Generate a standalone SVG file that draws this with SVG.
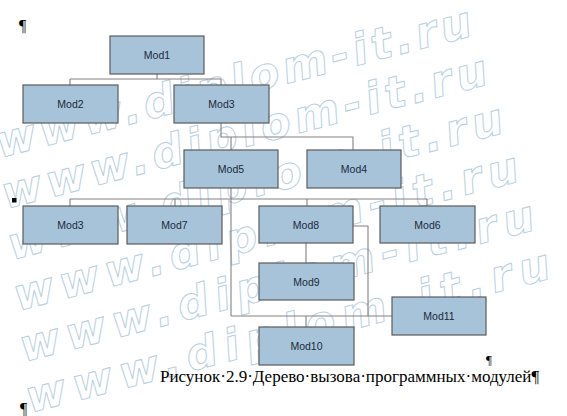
<svg xmlns="http://www.w3.org/2000/svg" width="567" height="416" viewBox="0 0 567 416">
<style>
.box{fill:#a7c3d9;stroke:#5b5b5b;stroke-width:1.2}
.lbl{font-family:"Liberation Sans",Arial,sans-serif;font-size:10.5px;fill:#1b2a3b;text-anchor:middle}
.con{fill:none;stroke:#858080;stroke-width:1.1}
.wm{font-family:"DejaVu Sans",sans-serif;font-size:44px;font-weight:bold;font-style:oblique;fill:#ffffff;stroke:#b9d0e0;stroke-width:1}
.para{font-family:"Liberation Serif","Times New Roman",serif;fill:#000}
</style>
<rect width="567" height="416" fill="#ffffff"/>
<g id="watermark">
<text class="wm" transform="translate(0,158) rotate(-14.5)" textLength="490" lengthAdjust="spacing">www.diplom-it.ru</text>
<text class="wm" transform="translate(6,209) rotate(-14.5)" textLength="500" lengthAdjust="spacing">www.diplom-it.ru</text>
<text class="wm" transform="translate(12,260) rotate(-14.5)" textLength="510" lengthAdjust="spacing">www.diplom-it.ru</text>
<text class="wm" transform="translate(18,311) rotate(-14.5)" textLength="520" lengthAdjust="spacing">www.diplom-it.ru</text>
<text class="wm" transform="translate(24,362) rotate(-14.5)" textLength="530" lengthAdjust="spacing">www.diplom-it.ru</text>
<text class="wm" transform="translate(30,413) rotate(-14.5)" textLength="540" lengthAdjust="spacing">www.diplom-it.ru</text>
</g>
<g id="connectors">
<path class="con" d="M157,74 V79 M70,79 H221 M70,79 V85 M221,79 V85"/>
<path class="con" d="M221,123 V137 H353 V150 M231,137 V150"/>
<path class="con" d="M231,188 V316 M70,199 H427 M70,199 V206 M175,199 V206 M307,199 V206 M427,199 V206"/>
<path class="con" d="M306,243 V263 M353,226 H368 V316 M231,316 H392 M306,316 V327"/>
</g>
<g id="mod1"><rect class="box" x="110" y="36" width="94" height="38"/><text class="lbl" x="157" y="59">Mod1</text></g>
<g id="mod2"><rect class="box" x="23" y="85" width="95" height="38"/><text class="lbl" x="70.5" y="108">Mod2</text></g>
<g id="mod3"><rect class="box" x="174" y="85" width="95" height="38"/><text class="lbl" x="221.5" y="108">Mod3</text></g>
<g id="mod5"><rect class="box" x="184" y="150" width="94" height="38"/><text class="lbl" x="231" y="173">Mod5</text></g>
<g id="mod4"><rect class="box" x="307" y="150" width="94" height="38"/><text class="lbl" x="354" y="173">Mod4</text></g>
<g id="mod3b"><rect class="box" x="23" y="206" width="95" height="38"/><text class="lbl" x="70.5" y="229">Mod3</text></g>
<g id="mod7"><rect class="box" x="127" y="206" width="95" height="38"/><text class="lbl" x="174.5" y="229">Mod7</text></g>
<g id="mod8"><rect class="box" x="259" y="206" width="94" height="37"/><text class="lbl" x="306" y="228.5">Mod8</text></g>
<g id="mod6"><rect class="box" x="380" y="206" width="95" height="37"/><text class="lbl" x="427.5" y="228.5">Mod6</text></g>
<g id="mod9"><rect class="box" x="259" y="263" width="95" height="37"/><text class="lbl" x="306.5" y="285.5">Mod9</text></g>
<g id="mod11"><rect class="box" x="392" y="297" width="94" height="38"/><text class="lbl" x="439" y="320">Mod11</text></g>
<g id="mod10"><rect class="box" x="259" y="327" width="95" height="38"/><text class="lbl" x="306.5" y="350">Mod10</text></g>
<rect x="12" y="198" width="4.5" height="4.5" fill="#000"/>
<text class="para" x="19" y="31" font-size="16">¶</text>
<text class="para" x="486" y="364" font-size="13">¶</text>
<text class="para" x="160" y="382" font-size="17">Рисунок·2.9·Дерево·вызова·программных·модулей¶</text>
<text class="para" x="20" y="414" font-size="16">¶</text>
</svg>
